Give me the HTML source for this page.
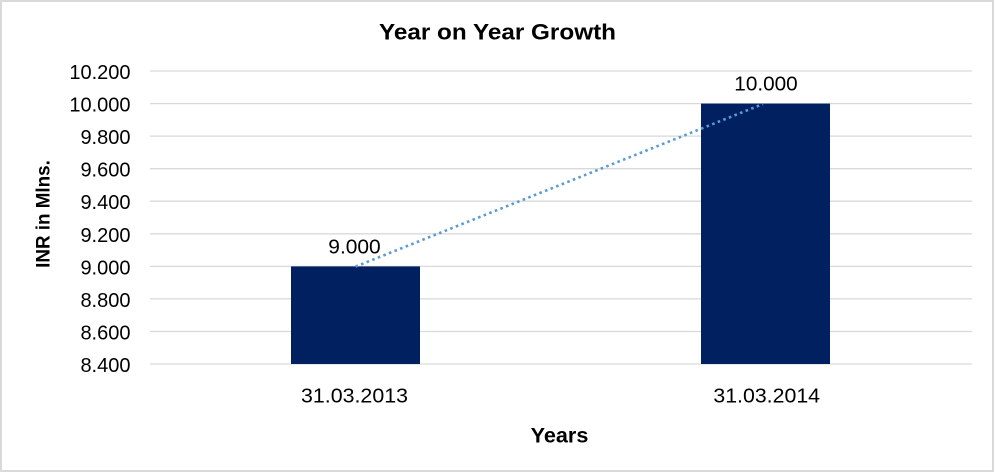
<!DOCTYPE html>
<html>
<head>
<meta charset="utf-8">
<style>
  html, body { margin: 0; padding: 0; background: #ffffff; }
  svg { display: block; }
  text { font-family: "Liberation Sans", Arial, sans-serif; fill: #000; }
</style>
</head>
<body>
<svg width="995" height="473" viewBox="0 0 995 473" xmlns="http://www.w3.org/2000/svg">
  <rect x="0" y="0" width="995" height="473" fill="#ffffff"/>
  <rect x="1" y="1" width="992" height="470" fill="none" stroke="#d9d9d9" stroke-width="2"/>

  <!-- Title -->
  <text x="497.5" y="39.3" font-size="22" font-weight="bold" text-anchor="middle" textLength="237" lengthAdjust="spacingAndGlyphs">Year on Year Growth</text>

  <!-- gridlines -->
  <g stroke="#d9d9d9" stroke-width="1.3">
    <line x1="150" y1="71" x2="972" y2="71"/>
    <line x1="150" y1="103.6" x2="972" y2="103.6"/>
    <line x1="150" y1="136.1" x2="972" y2="136.1"/>
    <line x1="150" y1="168.7" x2="972" y2="168.7"/>
    <line x1="150" y1="201.2" x2="972" y2="201.2"/>
    <line x1="150" y1="233.8" x2="972" y2="233.8"/>
    <line x1="150" y1="266.4" x2="972" y2="266.4"/>
    <line x1="150" y1="298.9" x2="972" y2="298.9"/>
    <line x1="150" y1="331.5" x2="972" y2="331.5"/>
    <line x1="150" y1="364" x2="972" y2="364"/>
  </g>

  <!-- y tick labels -->
  <g font-size="20" text-anchor="end">
    <text x="130.5" y="79">10.200</text>
    <text x="130.5" y="111.6">10.000</text>
    <text x="130.5" y="144.1">9.800</text>
    <text x="130.5" y="176.7">9.600</text>
    <text x="130.5" y="209.2">9.400</text>
    <text x="130.5" y="241.8">9.200</text>
    <text x="130.5" y="274.4">9.000</text>
    <text x="130.5" y="306.9">8.800</text>
    <text x="130.5" y="339.5">8.600</text>
    <text x="130.5" y="372">8.400</text>
  </g>

  <!-- bars -->
  <rect x="291" y="266.4" width="129" height="97.6" fill="#002060"/>
  <rect x="701" y="103.6" width="129" height="260.4" fill="#002060"/>

  <!-- trendline -->
  <line x1="355.5" y1="266.6" x2="763" y2="104" stroke="#5b9bd5" stroke-width="2.6" stroke-dasharray="2.6 3.4"/>

  <!-- data labels -->
  <text x="354.5" y="253.3" font-size="20" text-anchor="middle" textLength="52.4" lengthAdjust="spacingAndGlyphs">9.000</text>
  <text x="766" y="90.7" font-size="20" text-anchor="middle" textLength="63.4" lengthAdjust="spacingAndGlyphs">10.000</text>

  <!-- category labels -->
  <text x="354.5" y="402.7" font-size="20" text-anchor="middle" textLength="107" lengthAdjust="spacingAndGlyphs">31.03.2013</text>
  <text x="766.7" y="402.7" font-size="20" text-anchor="middle" textLength="106.7" lengthAdjust="spacingAndGlyphs">31.03.2014</text>

  <!-- axis titles -->
  <text x="559.5" y="442.7" font-size="21" font-weight="bold" text-anchor="middle" textLength="57.7" lengthAdjust="spacingAndGlyphs">Years</text>
  <text transform="translate(49.3,214) rotate(-90)" font-size="19" font-weight="bold" text-anchor="middle" textLength="107.7" lengthAdjust="spacingAndGlyphs">INR in Mlns.</text>
</svg>
</body>
</html>
